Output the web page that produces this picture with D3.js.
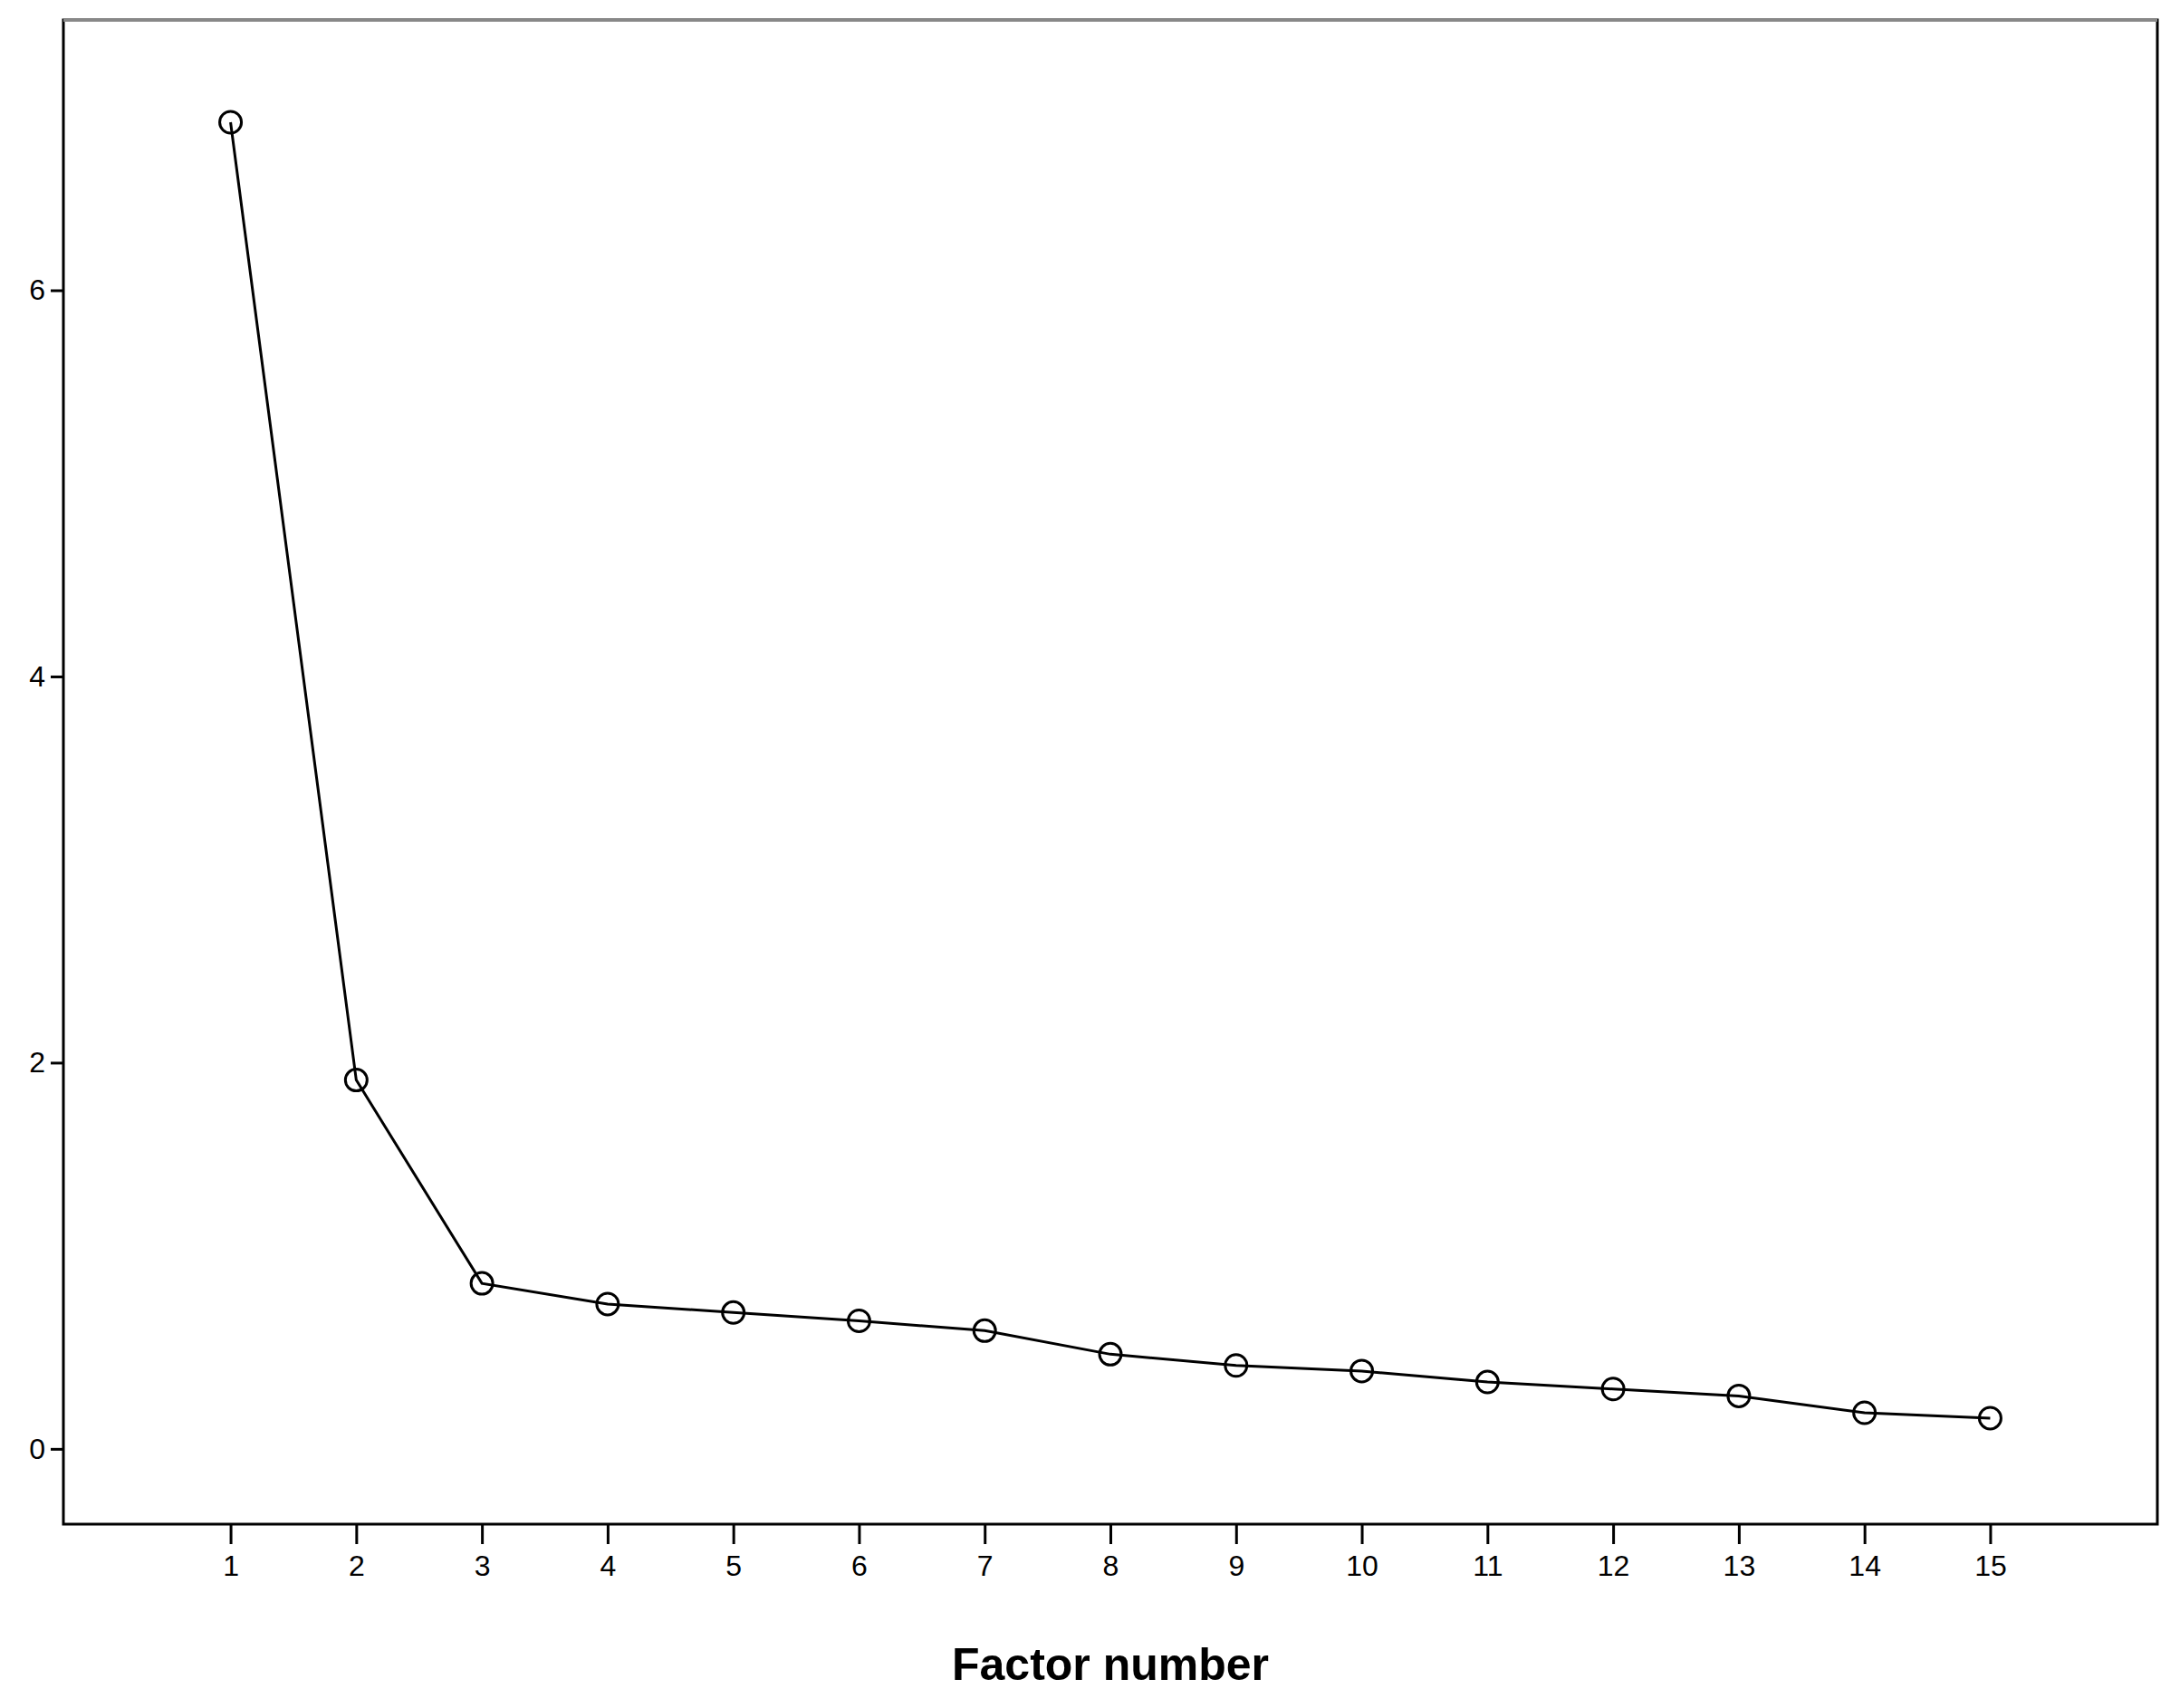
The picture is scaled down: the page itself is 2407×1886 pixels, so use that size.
<!DOCTYPE html>
<html><head><meta charset="utf-8">
<script src="https://cdn.jsdelivr.net/npm/d3@7"></script>
<style>body{margin:0;background:#fff}</style></head>
<body><svg id="c" width="2407" height="1886"></svg>
<script>
const factors = [1,2,3,4,5,6,7,8,9,10,11,12,13,14,15];
const eigenvalues = [6.87,1.91,0.857,0.75,0.706,0.663,0.612,0.49,0.432,0.403,0.346,0.31,0.274,0.187,0.159];
const yTicks = [0,2,4,6];
const xLabel = "Factor number";

const svg = d3.select("#c");
const L=70, R=2382, T=22, B=1683;
const x = d3.scaleLinear().domain([-0.33,16.33]).range([L,R]);
const y = d3.scaleLinear().domain([-0.39,7.40]).range([B,T]);

svg.append("rect").attr("x",L).attr("y",T).attr("width",R-L).attr("height",B-T)
  .attr("fill","none").attr("stroke","#000").attr("stroke-width",3);
svg.append("line").attr("x1",L).attr("x2",R).attr("y1",T).attr("y2",T).attr("stroke","#888").attr("stroke-width",4);

const ya = svg.append("g").attr("transform",`translate(${L},0)`)
  .call(d3.axisLeft(y).tickValues(yTicks).tickSize(14).tickPadding(6).tickFormat(d3.format("d")));
const xa = svg.append("g").attr("transform",`translate(0,${B})`)
  .call(d3.axisBottom(x).tickValues(factors).tickSize(22).tickPadding(12).tickFormat(d3.format("d")));
[ya,xa].forEach(g=>{
  g.select(".domain").remove();
  g.selectAll("line").attr("stroke","#000").attr("stroke-width",3);
  g.selectAll("text").attr("font-family","Liberation Sans, Arial, sans-serif").attr("font-size",32).attr("fill","#000");
});

const pts = factors.map((f,i)=>[f,eigenvalues[i]]);
svg.append("path").datum(pts)
  .attr("d",d3.line().x(d=>x(d[0])).y(d=>y(d[1])))
  .attr("fill","none").attr("stroke","#000").attr("stroke-width",3);
svg.selectAll("circle.p").data(pts).join("circle")
  .attr("cx",d=>x(d[0])).attr("cy",d=>y(d[1])).attr("r",12)
  .attr("fill","none").attr("stroke","#000").attr("stroke-width",3);

svg.append("text").attr("x",(L+R)/2).attr("y",1855).attr("text-anchor","middle")
  .attr("font-family","Liberation Sans, Arial, sans-serif").attr("font-weight","bold")
  .attr("font-size",50).text(xLabel);
</script></body></html>
